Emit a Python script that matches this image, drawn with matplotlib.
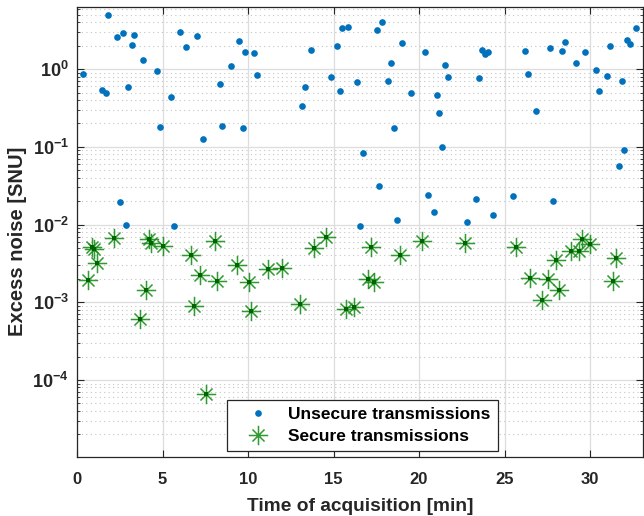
import matplotlib
matplotlib.use("Agg")
import matplotlib.pyplot as plt
from matplotlib.path import Path
import numpy as np

# Unsecure transmissions (blue dots)
unsec_t = [1.84, 2.33, 2.68, 3.34, 3.19, 3.85, 4.67, 0.35, 1.48, 1.68, 3.01, 5.51, 4.85, 2.52, 2.86, 5.69,
           6.02, 6.35, 7.02, 7.35, 8.35, 8.50, 9.01, 9.50, 9.83, 9.68, 10.34, 10.52,
           13.68, 13.35, 13.18, 15.19, 15.52, 15.85, 14.84, 15.35, 16.35, 16.70, 17.67, 16.52,
           17.52, 17.85, 19.02, 18.36, 18.18, 18.52, 18.69, 19.53, 20.35, 21.50, 21.70, 21.02,
           21.19, 21.35, 20.53, 20.86,
           23.68, 24.03, 23.85, 23.52, 23.34, 22.83, 24.34, 26.20, 26.35, 26.86, 25.51, 27.86,
           27.68, 28.35, 28.52, 29.19, 29.68, 30.34, 30.52, 31.01, 31.18, 31.85, 32.18, 32.36,
           32.67, 33.25, 32.00, 31.69]
unsec_n = [4.93, 2.59, 2.94, 2.77, 2.06, 1.33, 0.96, 0.87, 0.54, 0.49, 0.59, 0.44, 0.18, 0.0196, 0.0100, 0.0096,
           2.97, 1.92, 2.69, 0.128, 0.64, 0.184, 1.09, 2.32, 1.67, 0.175, 1.62, 0.85,
           1.77, 0.59, 0.34, 2.0, 3.38, 3.52, 0.80, 0.53, 0.69, 0.084, 0.0316, 0.0096,
           3.21, 4.04, 2.14, 1.21, 0.71, 0.175, 0.0114, 0.49, 1.66, 1.13, 0.79, 0.47,
           0.27, 0.099, 0.0237, 0.0147,
           1.74, 1.67, 1.55, 0.78, 0.0216, 0.0108, 0.0133, 1.69, 0.86, 0.29, 0.0234, 0.0198,
           1.87, 1.69, 2.21, 1.21, 1.66, 0.97, 0.53, 0.81, 1.96, 0.70, 2.34, 2.12,
           3.41, 2.67, 0.091, 0.056]

# Secure transmissions (green asterisks)
sec_t = [0.66, 0.86, 1.00, 1.19, 2.17, 4.03, 3.68, 4.18, 4.34, 5.02, 6.69, 7.17, 6.84, 8.04, 8.17, 7.53,
         9.33, 10.03, 10.17, 11.17, 12.00, 13.02, 13.84, 14.53, 15.72, 16.19, 17.18, 17.00, 17.38,
         18.87, 20.19, 22.66, 25.69, 26.51, 27.16, 27.52, 28.02, 28.17, 28.86, 29.33, 29.50, 30.01,
         31.50, 31.36]
sec_n = [0.00195, 0.0051, 0.0048, 0.0032, 0.00665, 0.00145, 0.0006, 0.0065, 0.0058, 0.00536, 0.0040,
         0.00226, 0.00089, 0.0062, 0.0019, 6.5e-5,
         0.00305, 0.00182, 0.00078, 0.00268, 0.00276, 0.00095, 0.00505, 0.0070, 0.00082, 0.00088,
         0.0051, 0.0020, 0.00182,
         0.0040, 0.0062, 0.0058, 0.0051, 0.00207, 0.00108, 0.00197, 0.00353, 0.00142, 0.0046, 0.0046,
         0.0066, 0.0056, 0.0037, 0.00186]

x_ticks = [0, 5, 10, 15, 20, 25, 30]
y_ticks = [1e-4, 1e-3, 1e-2, 1e-1, 1e0]
y_ticklabels = [r'$\mathbf{10^{-4}}$', r'$\mathbf{10^{-3}}$', r'$\mathbf{10^{-2}}$',
                r'$\mathbf{10^{-1}}$', r'$\mathbf{10^{0}}$']

plt.rcParams['font.family'] = ['Liberation Sans', 'DejaVu Sans']
plt.rcParams['font.weight'] = 'bold'
plt.rcParams['mathtext.fontset'] = 'custom'
plt.rcParams['mathtext.bf'] = 'Liberation Sans:bold'
plt.rcParams['mathtext.rm'] = 'Liberation Sans:bold'

# MATLAB-like asterisk marker: '+' with shorter diagonals
d = 0.62
ast_verts = [(-1, 0), (1, 0), (0, -1), (0, 1), (-d, -d), (d, d), (-d, d), (d, -d)]
ast_codes = [Path.MOVETO, Path.LINETO] * 4
asterisk = Path(ast_verts, ast_codes)

fig = plt.figure(figsize=(6.44, 5.16), dpi=100)
ax = fig.add_axes([0.1196, 0.115, 0.879, 0.8714])

ax.set_yscale('log')
ax.set_xlim(0, 33.1)
ax.set_ylim(1.03e-5, 6.3)

ax.grid(True, which='major', color='#dddddd', linewidth=0.9, linestyle='-')
ax.grid(True, which='minor', axis='y', color='#c4c4c4', linewidth=0.8, linestyle=(0, (1, 3)))
ax.set_axisbelow(True)

ax.plot(unsec_t, unsec_n, linestyle='none', marker='o', markersize=4.8, color='#0072BD',
        markeredgewidth=0, label='Unsecure transmissions')
ax.plot(sec_t, sec_n, linestyle='none', marker=asterisk, markersize=14, color='#1a8f1a',
        markerfacecolor='none', markeredgewidth=1.1, alpha=0.9, label='Secure transmissions')
ax.plot(sec_t, sec_n, linestyle='none', marker='s', markersize=3.2, color='#006400',
        markeredgewidth=0)

ax.set_xticks(x_ticks)
ax.set_xticklabels([str(v) for v in x_ticks])
ax.set_yticks(y_ticks)
ax.set_yticklabels(y_ticklabels)
ax.tick_params(axis='both', which='both', direction='in', top=True, right=True, colors='#262626')
ax.tick_params(axis='x', which='major', labelsize=12, pad=11)
ax.tick_params(axis='y', which='major', labelsize=13, pad=6)
ax.tick_params(axis='both', which='major', length=5, width=0.8)
ax.tick_params(axis='y', which='minor', length=2.5, width=0.6)

for s in ax.spines.values():
    s.set_color('#262626')
    s.set_linewidth(0.9)

ax.set_xlabel('Time of acquisition [min]', fontsize=13.8, fontweight='bold', color='#262626')
ax.set_ylabel('Excess noise [SNU]', fontsize=14.5, fontweight='bold', color='#262626')
ax.xaxis.set_label_coords(0.5, -0.11)
ax.xaxis.label.set_verticalalignment('center')
ax.yaxis.set_label_coords(-0.106, 0.48)
ax.yaxis.label.set_verticalalignment('center')

leg = ax.legend(loc='lower center', bbox_to_anchor=(0.5035, 0.012), fancybox=False,
                edgecolor='#262626', framealpha=1, fontsize=12.5, handlelength=2.8,
                handletextpad=0.35, borderpad=0.4, labelspacing=0.4, borderaxespad=0)
leg.get_frame().set_linewidth(0.9)
for t in leg.get_texts():
    t.set_fontweight('bold')

fig.savefig('out.png', dpi=100)
